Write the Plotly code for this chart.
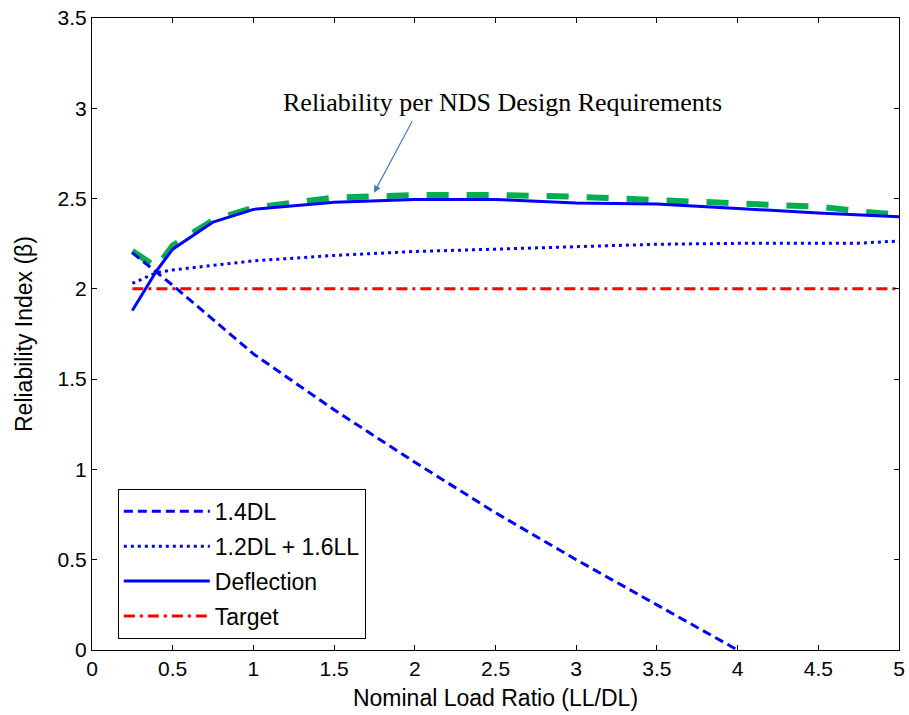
import plotly.graph_objects as go

# Data
x_14dl = [0.25, 0.5, 0.75, 1.0, 1.5, 2.0, 2.5, 3.0, 3.5, 4.0]
y_14dl = [2.20, 2.02, 1.83, 1.64, 1.33, 1.04, 0.76, 0.50, 0.25, 0.0]

x_combo = [0.25, 0.4, 0.5, 0.75, 1.0, 1.5, 2.0, 2.5, 3.0, 3.5, 4.0, 4.5, 4.75, 5.0]
y_combo = [2.03, 2.09, 2.105, 2.13, 2.155, 2.185, 2.207, 2.22, 2.233, 2.247, 2.252, 2.252, 2.253, 2.265]

x_defl = [0.25, 0.4, 0.5, 0.75, 1.0, 1.5, 2.0, 2.5, 3.0, 3.5, 4.0, 4.5, 5.0]
y_defl = [1.88, 2.10, 2.22, 2.37, 2.44, 2.48, 2.495, 2.495, 2.475, 2.47, 2.445, 2.42, 2.40]

x_nds = [0.25, 0.4, 0.5, 0.75, 1.0, 1.5, 2.0, 2.5, 3.0, 3.5, 4.0, 4.5, 4.75, 5.0]
y_nds = [2.21, 2.12, 2.24, 2.38, 2.45, 2.505, 2.52, 2.52, 2.51, 2.49, 2.47, 2.455, 2.43, 2.41]

x_target = [0.25, 5.0]
y_target = [2.0, 2.0]

x_ticks = [0, 0.5, 1, 1.5, 2, 2.5, 3, 3.5, 4, 4.5, 5]
y_ticks = [0, 0.5, 1, 1.5, 2, 2.5, 3, 3.5]

fig = go.Figure()
fig.add_trace(go.Scatter(x=x_nds, y=y_nds, mode="lines", showlegend=False,
                         line=dict(color="#00B050", width=6, dash="22px,18px")))
fig.add_trace(go.Scatter(x=x_14dl, y=y_14dl, mode="lines", name="1.4DL", legendgroup="a",
                         line=dict(color="#0000FF", width=3, dash="9px,5px")))
fig.add_trace(go.Scatter(x=x_combo, y=y_combo, mode="lines", name="1.2DL + 1.6LL", legendgroup="b",
                         line=dict(color="#0000FF", width=3, dash="3px,4px")))
fig.add_trace(go.Scatter(x=x_defl, y=y_defl, mode="lines", name="Deflection", legendgroup="c",
                         line=dict(color="#0000FF", width=3)))
fig.add_trace(go.Scatter(x=x_target, y=y_target, mode="lines", name="Target", legendgroup="d",
                         line=dict(color="#FF0000", width=3, dash="11px,5px,3px,5px")))

axis_common = dict(showgrid=False, zeroline=False, showline=True, linecolor="black", linewidth=1,
                   mirror="ticks", ticks="inside", ticklen=5, tickcolor="black", automargin=False,
                   tickfont=dict(family="Liberation Sans, Arial", size=21, color="black"))

fig.update_layout(
    width=909, height=715,
    margin=dict(l=92, r=10, t=18, b=65),
    paper_bgcolor="white", plot_bgcolor="white",
    font=dict(family="Liberation Sans, Arial", color="black"),
    xaxis=dict(range=[0, 5], tickvals=x_ticks, ticktext=[str(v) for v in x_ticks],
               title=dict(text="Nominal Load Ratio (LL/DL)", font=dict(size=23), standoff=10),
               **axis_common),
    yaxis=dict(range=[0, 3.5], tickvals=y_ticks, ticktext=[str(v) for v in y_ticks],
               title=dict(text="Reliability Index (β)", font=dict(size=23), standoff=18),
               **axis_common),
    legend=dict(x=0.032, y=0.255, xanchor="left", yanchor="top",
                bordercolor="black", borderwidth=1, bgcolor="white",
                font=dict(size=23, color="black"), traceorder="grouped",
                tracegroupgap=2, itemwidth=86),
    annotations=[
        dict(x=2.546, y=3.03, xref="x", yref="y", text="Reliability per NDS Design Requirements",
             showarrow=False, font=dict(family="Liberation Serif, Times New Roman", size=26, color="black")),
        dict(x=1.747, y=2.532, xref="x", yref="y", text="", showarrow=True,
             ax=39, ay=-73, arrowhead=2, arrowsize=1.2, arrowwidth=1.2, arrowcolor="#4A7EBB"),
    ],
)

fig.write_html("out.html")
